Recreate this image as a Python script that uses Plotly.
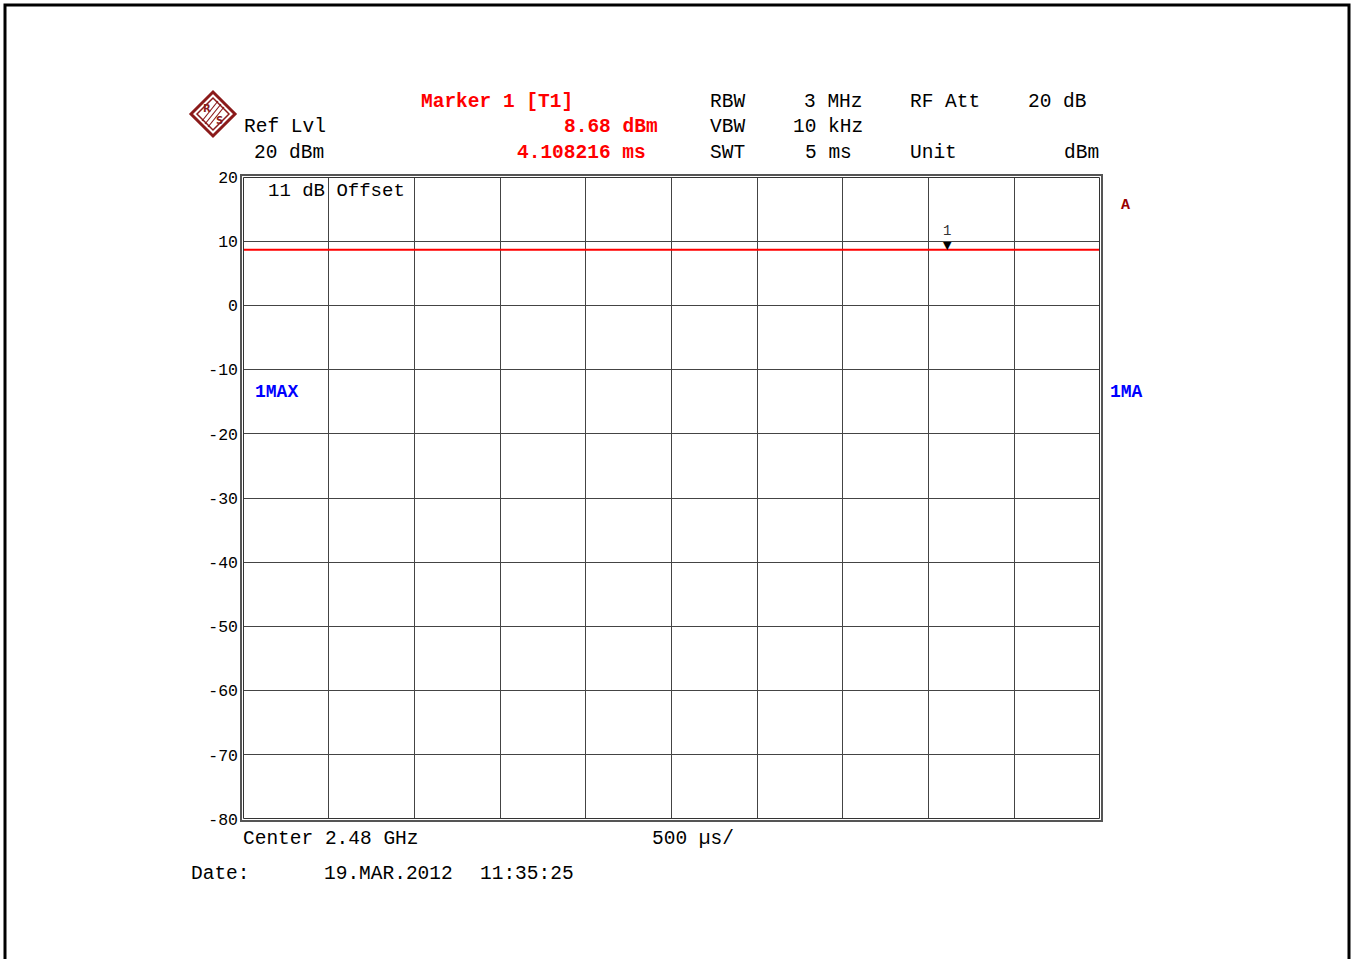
import plotly.graph_objects as go

# Zero-span sweep: time axis (ms) and measured level (dBm)
sweep_ms = [0.0, 0.5, 1.0, 1.5, 2.0, 2.5, 3.0, 3.5, 4.0, 4.108216, 4.5, 5.0]
level_dbm = [8.68, 8.68, 8.68, 8.68, 8.68, 8.68, 8.68, 8.68, 8.68, 8.68, 8.68, 8.68]

marker_ms = 4.108216
marker_dbm = 8.68

y_ticks = [20, 10, 0, -10, -20, -30, -40, -50, -60, -70, -80]
y_tick_text = ["20", "10", "0", "-10", "-20", "-30", "-40", "-50", "-60", "-70", "-80"]
x_ticks = [0, 0.5, 1.0, 1.5, 2.0, 2.5, 3.0, 3.5, 4.0, 4.5, 5.0]

W, H = 1356, 959
L, R, T, B = 243, 1100, 177, 819
MONO = "Liberation Mono"


def px(x):
    return (x - L) / (R - L)


def py(y):
    return (B - y) / (B - T)


fig = go.Figure()
fig.add_trace(go.Scatter(
    x=sweep_ms, y=level_dbm, mode="lines",
    line=dict(color="#ff0000", width=2), hoverinfo="skip", showlegend=False,
))

shapes = []
# page frame
shapes.append(dict(type="rect", xref="paper", yref="paper",
                   x0=px(5), x1=px(1349), y0=py(968), y1=py(5),
                   line=dict(color="black", width=3), layer="above"))
# double frame of the grid
for off, col, w in [(-2, "#555555", 2), (0.5, "#333333", 1)]:
    shapes.append(dict(type="rect", xref="paper", yref="paper",
                       x0=px(L + off), x1=px(R - off), y0=py(B - off), y1=py(T + off),
                       line=dict(color=col, width=w), layer="above"))

# R&S style logo diamond
cx, cy, r = 213, 114, 22
logo = "#8b1a1a"
shapes.append(dict(type="path", xref="paper", yref="paper",
                   path=f"M {px(cx - r)} {py(cy)} L {px(cx)} {py(cy - r)} L {px(cx + r)} {py(cy)} L {px(cx)} {py(cy + r)} Z",
                   line=dict(color=logo, width=3), fillcolor="white"))
r2 = 16
shapes.append(dict(type="path", xref="paper", yref="paper",
                   path=f"M {px(cx - r2)} {py(cy)} L {px(cx)} {py(cy - r2)} L {px(cx + r2)} {py(cy)} L {px(cx)} {py(cy + r2)} Z",
                   line=dict(color=logo, width=1.5)))
for d in (-3, 0, 3):
    shapes.append(dict(type="line", xref="paper", yref="paper",
                       x0=px(cx + 8 + d), y0=py(cy - 10 + d), x1=px(cx - 8 + d), y1=py(cy + 10 + d),
                       line=dict(color=logo, width=1.2)))

annotations = []


def text(x, y, s, color="black", size=19.5, anchor="left", bold=False, family=MONO):
    if bold:
        s = f"<b>{s}</b>"
    annotations.append(dict(x=px(x), y=py(y), xref="paper", yref="paper", text=s,
                            showarrow=False, xanchor=anchor, yanchor="middle",
                            font=dict(family=family, size=size, color=color)))


text(cx - 6, cy - 6, "R", logo, 10, "center", True, "DejaVu Sans")
text(cx + 6, cy + 6, "S", logo, 10, "center", True, "DejaVu Sans")

# header block
text(242, 127, "Ref Lvl")
text(326, 153, "20 dBm", anchor="right")
text(419, 102, "Marker 1 [T1]", "#ff0000", 19.5, bold=True)
text(660, 127, f"{marker_dbm:.2f} dBm", "#ff0000", anchor="right", bold=True)
text(648, 153, f"{marker_ms:.6f} ms", "#ff0000", anchor="right", bold=True)
text(708, 102, "RBW")
text(708, 127, "VBW")
text(708, 153, "SWT")
text(865, 102, "3 MHz", anchor="right")
text(865, 127, "10 kHz", anchor="right")
text(854, 153, "5 ms", anchor="right")
text(908, 102, "RF Att")
text(908, 153, "Unit")
text(1089, 102, "20 dB", anchor="right")
text(1101, 153, "dBm", anchor="right")

# inside / around the grid
text(266, 191, "11 dB Offset", size=19)
text(253, 392, "1MAX", "#0000ff", 18, bold=True)
text(1108, 392, "1MA", "#0000ff", 18, bold=True)
text(1125, 205, "A", "#990000", 15, "center", True)

# footer
text(241, 839, "Center 2.48 GHz")
text(650, 839, "500 µs/")
text(189, 874, "Date:")
text(322, 874, "19.MAR.2012")
text(478, 874, "11:35:25")

# trace marker
annotations.append(dict(x=marker_ms, y=marker_dbm, xref="x", yref="y", text="▼",
                        showarrow=False, xanchor="center", yanchor="bottom", yshift=-4,
                        font=dict(family="DejaVu Sans", size=11, color="black")))
annotations.append(dict(x=marker_ms, y=marker_dbm, xref="x", yref="y", text="1",
                        showarrow=False, xanchor="center", yanchor="bottom", yshift=9,
                        font=dict(family=MONO, size=14, color="#333333")))

fig.update_layout(
    width=W, height=H,
    margin=dict(l=L, r=W - R, t=T, b=H - B, pad=0),
    paper_bgcolor="white", plot_bgcolor="white",
    shapes=shapes, annotations=annotations, showlegend=False,
    xaxis=dict(range=[0, 5], tickvals=x_ticks, showticklabels=False, ticks="",
               showgrid=True, gridcolor="#444444", gridwidth=1, zeroline=False,
               showline=False, fixedrange=True),
    yaxis=dict(range=[-80, 20], tickvals=y_ticks, ticktext=y_tick_text, ticks="",
               showgrid=True, gridcolor="#444444", gridwidth=1, zeroline=False,
               showline=False, ticklabelstandoff=4,
               tickfont=dict(family=MONO, size=16.5, color="black"), fixedrange=True),
)

fig.write_html("out.html", config={"displayModeBar": False})
